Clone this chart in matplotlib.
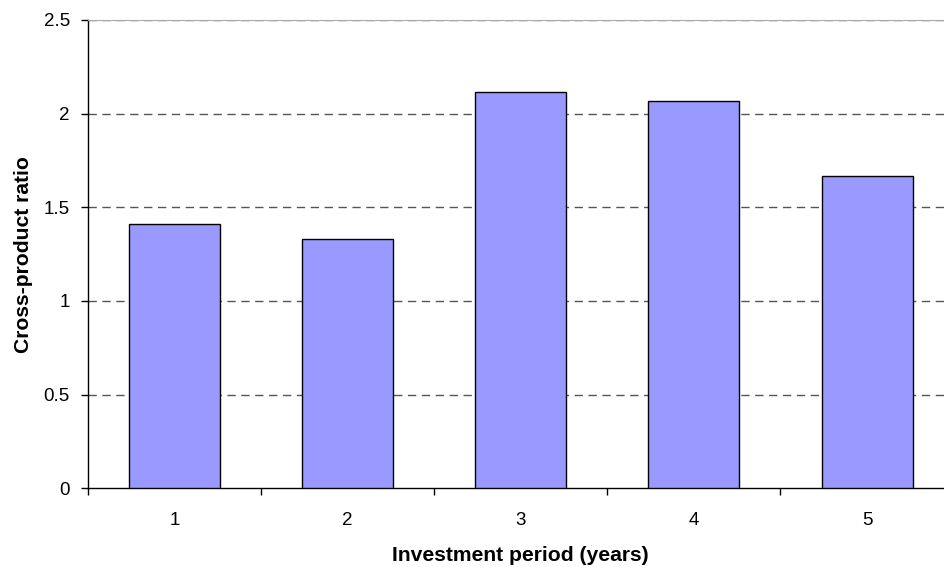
import matplotlib.pyplot as plt
import numpy as np

# data
periods = ["1", "2", "3", "4", "5"]
ratios = [1.41, 1.33, 2.115, 2.065, 1.668]

plt.rcParams['font.family'] = ['Liberation Sans', 'DejaVu Sans']

fig = plt.figure(figsize=(9.44, 5.67), dpi=100)
ax = fig.add_axes([0.0932, 0.1388, 0.917, 0.826])

x = np.arange(len(periods))
ax.bar(x, ratios, width=0.525, color="#9999FF", edgecolor="black", linewidth=1, zorder=3)

ax.set_xlim(-0.5, len(periods) - 0.5)
ax.set_ylim(0, 2.5)
ax.set_yticks([0, 0.5, 1, 1.5, 2, 2.5])
ax.set_yticklabels(["0", "0.5", "1", "1.5", "2", "2.5"])

# gridlines
for yv in [0.5, 1, 1.5, 2, 2.5]:
    ax.axhline(yv, color="#555555", linestyle=(0, (6, 4)), linewidth=1, zorder=1)

# labels centred, ticks on category boundaries
ax.set_xticks(x)
ax.set_xticklabels(periods)
ax.set_xticks(np.arange(-0.5, len(periods)), minor=True)
ax.tick_params(axis="x", which="major", length=0, pad=17, labelsize=13.5)
ax.tick_params(axis="x", which="minor", length=5, width=1, direction="out")
ax.tick_params(axis="y", length=5, width=1, direction="out", pad=8, labelsize=13.5)

ax.spines["top"].set_color("#aaaaaa")
ax.spines["right"].set_visible(False)
ax.spines["left"].set_linewidth(1)
ax.spines["bottom"].set_linewidth(1)

ax.set_xlabel("Investment period (years)", fontsize=15.2, fontweight="bold", labelpad=12)
ax.set_ylabel("Cross-product ratio", fontsize=15.2, fontweight="bold", labelpad=8)

fig.savefig("out.png", dpi=100)
